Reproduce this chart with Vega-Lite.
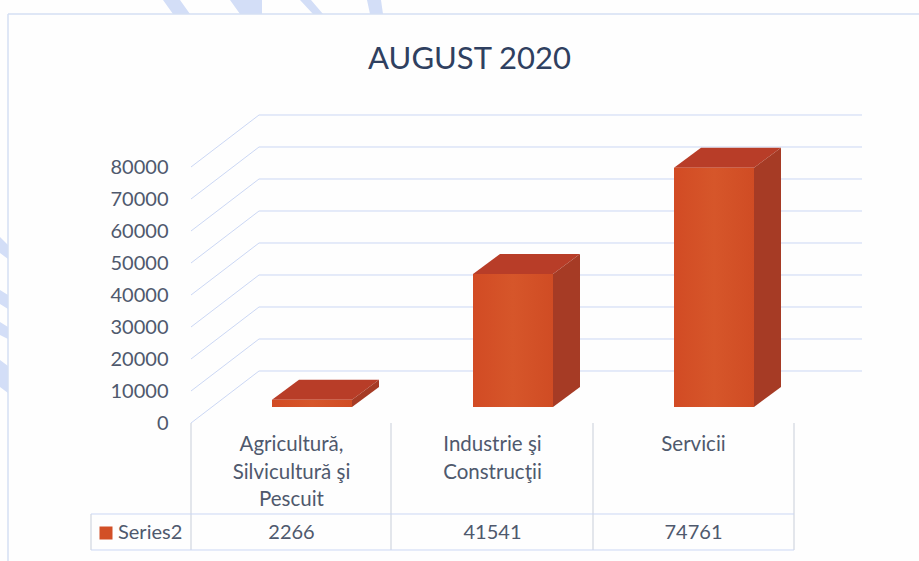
{
"$schema":"https://vega.github.io/schema/vega-lite/v6.json",
"width":603,"height":256,
"autosize":{"type":"none"},
"padding":{"left":191,"top":167,"right":125,"bottom":138},
"background":"#fefefe",
"view":{"stroke":null},
"title":{"text":"AUGUST 2020","font":"Lato","fontSize":31,"fontWeight":"normal","color":"#2f4060","anchor":"middle","dx":-23,"offset":-100,"baseline":"alphabetic"},
"datasets":{
"bars":[{"category":"Agricultură,\nSilvicultură şi\nPescuit","value":2266},{"category":"Industrie şi\nConstrucţii","value":41541},{"category":"Servicii","value":74761}],
"ticks":[{"tick":0},{"tick":10000},{"tick":20000},{"tick":30000},{"tick":40000},{"tick":50000},{"tick":60000},{"tick":70000},{"tick":80000}],
"series":[{"series":"Series2"}],
"one":[{"frame":"chart"}]
},
"layer":[
{"data":{"name":"one"},"mark":{"type":"point","filled":true,"size":4,"opacity":1,"strokeWidth":0,"fill":"#d3def7","shape":"M-28 -167L-18 -153L-1 -153L-11 -167ZM39 -167L49 -153L71 -153L71 -167ZM109 -167L122 -153L132 -153L120 -167ZM176 -167L179 -153L192 -153L190 -167ZM-191 70L-183 78L-183 92L-191 86ZM-191 123L-183 128L-183 142L-191 137ZM-191 155L-183 160L-183 172L-191 168ZM-191 193L-183 199L-183 226L-191 220Z"},
 "encoding":{"x":{"value":0},"y":{"value":0}}},
{"data":{"name":"one"},"mark":{"type":"rule","stroke":"#d5dff3","strokeWidth":1.5},"encoding":{"x":{"value":-183},"y":{"value":-153},"y2":{"value":394}}},
{"data":{"name":"one"},"mark":{"type":"rule","stroke":"#d5dff3","strokeWidth":1.5},"encoding":{"x":{"value":-183},"x2":{"value":728},"y":{"value":-153}}},
{"data":{"name":"ticks"},"mark":{"type":"point","filled":false,"size":4,"opacity":1,"stroke":"#cbd7f4","strokeWidth":1,"shape":"M0 0L68 -52"},
 "encoding":{"x":{"value":0},"y":{"field":"tick","type":"quantitative","scale":{"domain":[0,80000],"nice":false},"axis":{"values":[0,10000,20000,30000,40000,50000,60000,70000,80000],"title":null,"domain":false,"ticks":false,"grid":false,"format":"d","labelFont":"Lato","labelFontSize":20,"labelColor":"#4f596d","labelPadding":23,"labelBaseline":"middle","labelOverlap":false}}}},
{"data":{"name":"ticks"},"mark":{"type":"rule","stroke":"#cbd7f4","strokeWidth":1,"xOffset":68,"x2Offset":68,"yOffset":-52},
 "encoding":{"x":{"value":0},"x2":{"value":603},"y":{"field":"tick","type":"quantitative","axis":{"values":[0,10000,20000,30000,40000,50000,60000,70000,80000],"title":null,"domain":false,"ticks":false,"grid":false,"format":"d","labelFont":"Lato","labelFontSize":20,"labelColor":"#4f596d","labelPadding":23,"labelBaseline":"middle","labelOverlap":false}}}},
{"data":{"name":"bars"},"mark":{"type":"point","filled":true,"size":4,"opacity":1,"strokeWidth":0,"xOffset":20.5,"yOffset":-16,"fill":"#b83d28","shape":"M-40 0L-13 -20L67 -20L40 0Z"},
 "encoding":{"x":{"field":"category","type":"nominal","sort":null,"scale":{"paddingInner":0,"paddingOuter":0},"axis":null},"y":{"field":"value","type":"quantitative","axis":{"values":[0,10000,20000,30000,40000,50000,60000,70000,80000],"title":null,"domain":false,"ticks":false,"grid":false,"format":"d","labelFont":"Lato","labelFontSize":20,"labelColor":"#4f596d","labelPadding":23,"labelBaseline":"middle","labelOverlap":false}}}},
{"data":{"name":"bars"},"mark":{"type":"point","filled":true,"size":4,"opacity":1,"strokeWidth":0,"xOffset":20.5,"yOffset":-16,"fill":"#a63b25"},
 "encoding":{"x":{"field":"category","type":"nominal","sort":null},"y":{"field":"value","type":"quantitative","axis":{"values":[0,10000,20000,30000,40000,50000,60000,70000,80000],"title":null,"domain":false,"ticks":false,"grid":false,"format":"d","labelFont":"Lato","labelFontSize":20,"labelColor":"#4f596d","labelPadding":23,"labelBaseline":"middle","labelOverlap":false}},
  "shape":{"field":"category","type":"nominal","sort":null,"legend":null,"scale":{"range":["M40 0L67 -20L67 -12.75L40 7.25Z","M40 0L67 -20L67 112.9L40 132.9Z","M40 0L67 -20L67 219.2L40 239.2Z"]}}}},
{"data":{"name":"bars"},"mark":{"type":"bar","width":80,"xOffset":20.5,"yOffset":-16,"y2Offset":-16,"color":{"gradient":"linear","x1":0,"y1":0,"x2":1,"y2":0,"stops":[{"offset":0,"color":"#d24b24"},{"offset":0.5,"color":"#d6562a"},{"offset":1,"color":"#d04c24"}]}},
 "encoding":{"x":{"field":"category","type":"nominal","sort":null},"y":{"field":"value","type":"quantitative","axis":{"values":[0,10000,20000,30000,40000,50000,60000,70000,80000],"title":null,"domain":false,"ticks":false,"grid":false,"format":"d","labelFont":"Lato","labelFontSize":20,"labelColor":"#4f596d","labelPadding":23,"labelBaseline":"middle","labelOverlap":false}}}},
{"data":{"name":"one"},"mark":{"type":"rule","stroke":"#c8ced9","strokeWidth":1},"encoding":{"x":{"value":0},"y":{"value":256},"y2":{"value":383}}},
{"data":{"name":"one"},"mark":{"type":"rule","stroke":"#c8ced9","strokeWidth":1},"encoding":{"x":{"value":200},"y":{"value":256},"y2":{"value":383}}},
{"data":{"name":"one"},"mark":{"type":"rule","stroke":"#c8ced9","strokeWidth":1},"encoding":{"x":{"value":402},"y":{"value":256},"y2":{"value":383}}},
{"data":{"name":"one"},"mark":{"type":"rule","stroke":"#c8ced9","strokeWidth":1},"encoding":{"x":{"value":603},"y":{"value":256},"y2":{"value":383}}},
{"data":{"name":"one"},"mark":{"type":"rule","stroke":"#c8ced9","strokeWidth":1},"encoding":{"x":{"value":-100},"y":{"value":347},"y2":{"value":383}}},
{"data":{"name":"one"},"mark":{"type":"rule","stroke":"#cbd7f4","strokeWidth":1},"encoding":{"x":{"value":-100},"x2":{"value":603},"y":{"value":347}}},
{"data":{"name":"one"},"mark":{"type":"rule","stroke":"#cbd7f4","strokeWidth":1},"encoding":{"x":{"value":-100},"x2":{"value":603},"y":{"value":383}}},
{"data":{"name":"bars"},"mark":{"type":"text","font":"Lato","fontSize":20.5,"color":"#4f596d","lineBreak":"\n","lineHeight":27.5,"baseline":"middle","y":278},
 "encoding":{"x":{"field":"category","type":"nominal","sort":null},"text":{"field":"category","type":"nominal"}}},
{"data":{"name":"bars"},"mark":{"type":"text","font":"Lato","fontSize":20,"color":"#4f596d","baseline":"middle","y":366},
 "encoding":{"x":{"field":"category","type":"nominal","sort":null},"text":{"field":"value","type":"quantitative","format":"d"}}},
{"data":{"name":"series"},"mark":{"type":"square","size":169,"opacity":1,"color":"#d24f26","x":-85,"y":366},"encoding":{}},
{"data":{"name":"series"},"mark":{"type":"text","font":"Lato","fontSize":20,"color":"#4f596d","baseline":"middle","align":"left","x":-73,"y":366},
 "encoding":{"text":{"field":"series","type":"nominal"}}}
]
}
